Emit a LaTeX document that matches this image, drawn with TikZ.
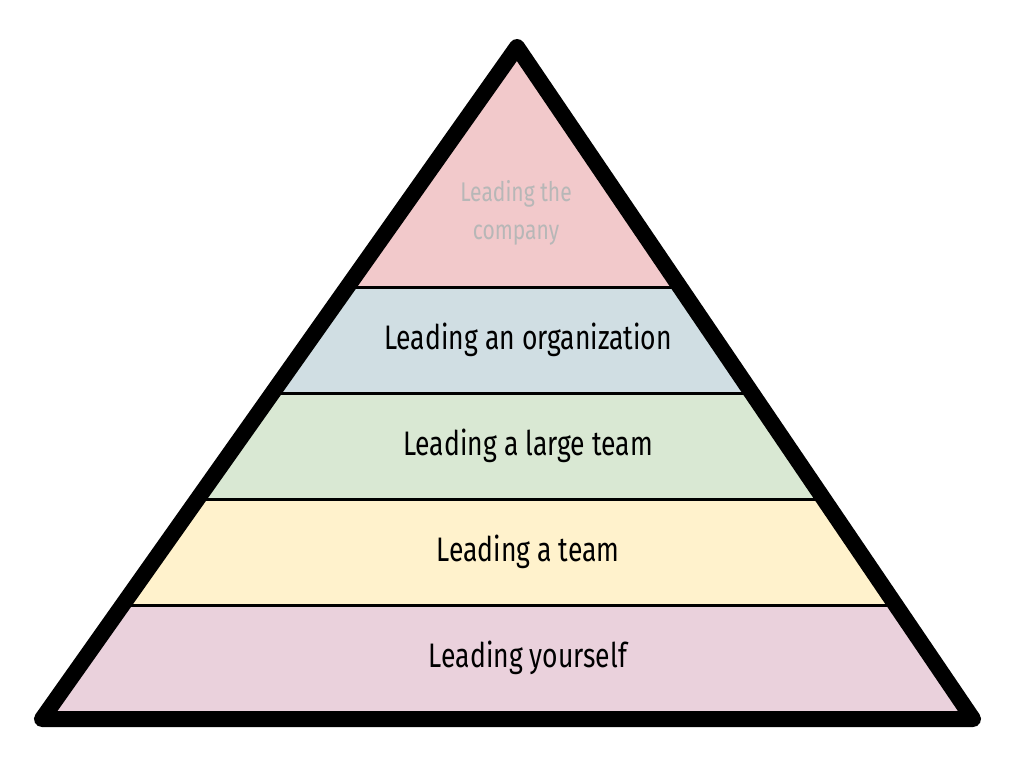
\documentclass[tikz,border=0pt]{standalone}
\usepackage{fontspec}
\setmainfont[FakeStretch=0.78]{Fira Sans}
\begin{document}
\begin{tikzpicture}[x=1pt,y=-1pt,
  lbl/.style={font=\fontsize{34}{38}\selectfont, text=black, align=center},
  sep/.style={line width=3pt}]
\useasboundingbox (0,0) rectangle (1016,764);
\definecolor{cTop}{HTML}{F2C9CB}
\definecolor{cBlue}{HTML}{D0DEE3}
\definecolor{cGreen}{HTML}{D9E8D3}
\definecolor{cYel}{HTML}{FFF2CC}
\definecolor{cBot}{HTML}{EAD1DC}
\coordinate (A) at (517,47);
\coordinate (L) at (42,719);
\coordinate (R) at (973,719);
\begin{scope}
\clip (A) -- (L) -- (R) -- cycle;
\fill[cTop] (0,0) rectangle (1016,287);
\fill[cBlue] (0,287) rectangle (1016,393);
\fill[cGreen] (0,393) rectangle (1016,499);
\fill[cYel] (0,499) rectangle (1016,605);
\fill[cBot] (0,605) rectangle (1016,764);
\draw[sep] (0,287) -- (1016,287);
\draw[sep] (0,393) -- (1016,393);
\draw[sep] (0,499) -- (1016,499);
\draw[sep] (0,605) -- (1016,605);
\end{scope}
\draw[line width=16pt, line join=round] (A) -- (L) -- (R) -- cycle;
\node[lbl, font=\fontsize{27}{38}\selectfont, text={rgb,255:red,183;green,183;blue,183}] (t1) at (516,213) {Leading the\\company};
\node[lbl] (t2) at (528,340) {Leading an organization};
\node[lbl] (t3) at (528,446) {Leading a large team};
\node[lbl] (t4) at (528,552) {Leading a team};
\node[lbl] (t5) at (528,658) {Leading yourself};
\end{tikzpicture}
\end{document}
